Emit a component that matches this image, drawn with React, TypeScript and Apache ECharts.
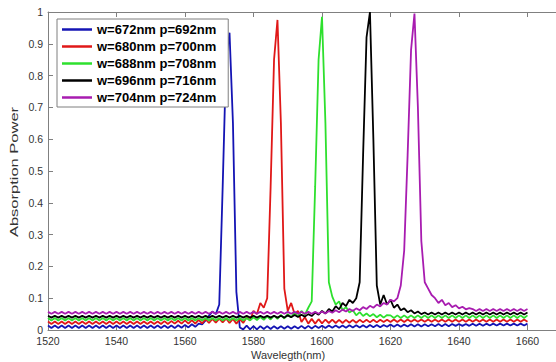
import React, { useEffect, useRef } from "react";
import * as echarts from "echarts";

const FONT = "'Liberation Sans', Arial, sans-serif";

// sampling grid of the spectra (nm)
const WAVELENGTH: number[] = Array.from({ length: 141 }, (_, i) => 1520 + i);

const X_TICKS = { min: 1520, max: 1680, interval: 20 };
const Y_TICKS = { min: 0, max: 1, interval: 0.1 };

const SERIES_NAMES = [
  "w=672nm p=692nm",
  "w=680nm p=700nm",
  "w=688nm p=708nm",
  "w=696nm p=716nm",
  "w=704nm p=724nm",
];
const SERIES_COLORS = ["#1414b4", "#e01818", "#2ee02e", "#000000", "#a81cb0"];

const BLUE = [
  0.014, 0.006, 0.014, 0.006, 0.014, 0.006, 0.014, 0.006, 0.014, 0.006,
  0.014, 0.006, 0.014, 0.006, 0.014, 0.006, 0.014, 0.006, 0.014, 0.006,
  0.014, 0.006, 0.014, 0.006, 0.014, 0.006, 0.014, 0.006, 0.014, 0.006,
  0.014, 0.006, 0.014, 0.006, 0.014, 0.006, 0.014, 0.006, 0.015, 0.007,
  0.016, 0.008, 0.018, 0.010, 0.020, 0.018, 0.030, 0.045, 0.058, 0.050,
  0.080, 0.450, 0.850, 0.935, 0.650, 0.120, 0.008, 0.002, 0.014, 0.002,
  0.012, 0.002, 0.012, 0.003, 0.012, 0.003, 0.012, 0.004, 0.012, 0.004,
  0.012, 0.004, 0.012, 0.005, 0.013, 0.005, 0.013, 0.005, 0.013, 0.006,
  0.013, 0.006, 0.014, 0.007, 0.014, 0.007, 0.014, 0.007, 0.015, 0.008,
  0.015, 0.008, 0.015, 0.008, 0.016, 0.009, 0.016, 0.009, 0.016, 0.010,
  0.017, 0.010, 0.017, 0.010, 0.017, 0.011, 0.018, 0.011, 0.018, 0.011,
  0.018, 0.012, 0.018, 0.012, 0.019, 0.012, 0.019, 0.012, 0.019, 0.013,
  0.019, 0.013, 0.019, 0.013, 0.020, 0.013, 0.020, 0.013, 0.020, 0.014,
  0.020, 0.014, 0.020, 0.014, 0.020, 0.014, 0.020, 0.014, 0.020, 0.014,
  0.020,
];

const RED = [
  0.027, 0.019, 0.027, 0.019, 0.027, 0.019, 0.027, 0.019, 0.027, 0.019,
  0.027, 0.019, 0.027, 0.019, 0.027, 0.019, 0.027, 0.019, 0.027, 0.019,
  0.027, 0.019, 0.027, 0.019, 0.027, 0.019, 0.027, 0.019, 0.027, 0.019,
  0.027, 0.019, 0.027, 0.019, 0.028, 0.019, 0.028, 0.020, 0.029, 0.020,
  0.030, 0.020, 0.031, 0.020, 0.032, 0.021, 0.034, 0.022, 0.035, 0.023,
  0.036, 0.024, 0.036, 0.022, 0.035, 0.020, 0.034, 0.022, 0.040, 0.030,
  0.060, 0.050, 0.085, 0.070, 0.100, 0.450, 0.850, 0.975, 0.650, 0.130,
  0.060, 0.085, 0.050, 0.060, 0.025, 0.040, 0.020, 0.035, 0.020, 0.034,
  0.021, 0.033, 0.022, 0.033, 0.022, 0.032, 0.022, 0.032, 0.023, 0.032,
  0.023, 0.032, 0.024, 0.032, 0.024, 0.032, 0.024, 0.032, 0.025, 0.032,
  0.025, 0.033, 0.025, 0.033, 0.025, 0.033, 0.026, 0.033, 0.026, 0.033,
  0.026, 0.033, 0.026, 0.033, 0.026, 0.033, 0.026, 0.033, 0.026, 0.033,
  0.026, 0.033, 0.026, 0.033, 0.026, 0.033, 0.026, 0.033, 0.026, 0.033,
  0.026, 0.033, 0.026, 0.033, 0.026, 0.033, 0.026, 0.033, 0.026, 0.033,
  0.026,
];

const GREEN = [
  0.038, 0.030, 0.038, 0.030, 0.038, 0.030, 0.038, 0.030, 0.038, 0.030,
  0.038, 0.030, 0.038, 0.030, 0.038, 0.030, 0.038, 0.030, 0.038, 0.030,
  0.038, 0.030, 0.038, 0.030, 0.038, 0.030, 0.038, 0.030, 0.038, 0.030,
  0.038, 0.030, 0.038, 0.030, 0.038, 0.030, 0.038, 0.030, 0.038, 0.030,
  0.038, 0.030, 0.038, 0.030, 0.038, 0.030, 0.038, 0.030, 0.038, 0.030,
  0.038, 0.030, 0.038, 0.030, 0.038, 0.030, 0.038, 0.030, 0.038, 0.030,
  0.040, 0.031, 0.041, 0.032, 0.043, 0.033, 0.045, 0.035, 0.048, 0.036,
  0.050, 0.040, 0.055, 0.042, 0.060, 0.048, 0.070, 0.090, 0.450, 0.850,
  0.985, 0.650, 0.150, 0.105, 0.080, 0.090, 0.062, 0.072, 0.055, 0.062,
  0.046, 0.056, 0.044, 0.052, 0.043, 0.050, 0.040, 0.048, 0.039, 0.047,
  0.046, 0.038, 0.046, 0.038, 0.046, 0.038, 0.046, 0.038, 0.046, 0.038,
  0.046, 0.038, 0.046, 0.038, 0.046, 0.038, 0.046, 0.038, 0.046, 0.038,
  0.046, 0.038, 0.046, 0.038, 0.046, 0.038, 0.046, 0.038, 0.046, 0.038,
  0.046, 0.038, 0.046, 0.038, 0.046, 0.038, 0.046, 0.038, 0.046, 0.038,
  0.046,
];

const BLACK = [
  0.045, 0.039, 0.045, 0.039, 0.045, 0.039, 0.045, 0.039, 0.045, 0.039,
  0.045, 0.039, 0.045, 0.039, 0.045, 0.039, 0.045, 0.039, 0.045, 0.039,
  0.045, 0.039, 0.045, 0.039, 0.045, 0.039, 0.045, 0.039, 0.045, 0.039,
  0.045, 0.039, 0.045, 0.039, 0.045, 0.039, 0.045, 0.039, 0.045, 0.039,
  0.045, 0.039, 0.045, 0.039, 0.045, 0.039, 0.045, 0.039, 0.045, 0.039,
  0.045, 0.039, 0.045, 0.039, 0.045, 0.039, 0.045, 0.039, 0.045, 0.039,
  0.045, 0.039, 0.045, 0.039, 0.045, 0.039, 0.045, 0.039, 0.045, 0.039,
  0.046, 0.040, 0.047, 0.041, 0.048, 0.042, 0.050, 0.044, 0.055, 0.048,
  0.060, 0.052, 0.066, 0.058, 0.075, 0.065, 0.085, 0.075, 0.095, 0.085,
  0.100, 0.150, 0.550, 0.920, 1.000, 0.600, 0.140, 0.080, 0.110, 0.080,
  0.095, 0.070, 0.080, 0.062, 0.068, 0.056, 0.062, 0.052, 0.058, 0.050,
  0.055, 0.049, 0.055, 0.049, 0.055, 0.049, 0.055, 0.049, 0.055, 0.049,
  0.055, 0.049, 0.055, 0.049, 0.055, 0.049, 0.055, 0.049, 0.055, 0.049,
  0.055, 0.049, 0.055, 0.049, 0.055, 0.049, 0.055, 0.049, 0.055, 0.049,
  0.055,
];

const PURPLE = [
  0.057, 0.051, 0.057, 0.051, 0.057, 0.051, 0.057, 0.051, 0.057, 0.051,
  0.057, 0.051, 0.057, 0.051, 0.057, 0.051, 0.057, 0.051, 0.057, 0.051,
  0.057, 0.051, 0.057, 0.051, 0.057, 0.051, 0.057, 0.051, 0.057, 0.051,
  0.057, 0.051, 0.057, 0.051, 0.057, 0.051, 0.057, 0.051, 0.057, 0.051,
  0.057, 0.051, 0.057, 0.051, 0.057, 0.051, 0.057, 0.051, 0.057, 0.051,
  0.057, 0.051, 0.057, 0.051, 0.057, 0.051, 0.057, 0.051, 0.057, 0.051,
  0.057, 0.051, 0.057, 0.051, 0.057, 0.051, 0.057, 0.051, 0.057, 0.051,
  0.057, 0.051, 0.057, 0.051, 0.057, 0.051, 0.057, 0.051, 0.057, 0.051,
  0.058, 0.052, 0.060, 0.054, 0.062, 0.056, 0.064, 0.058, 0.066, 0.060,
  0.068, 0.062, 0.072, 0.066, 0.076, 0.070, 0.080, 0.074, 0.085, 0.080,
  0.095, 0.090, 0.100, 0.140, 0.250, 0.550, 0.880, 0.995, 0.700, 0.280,
  0.150, 0.130, 0.110, 0.100, 0.085, 0.095, 0.078, 0.085, 0.072, 0.078,
  0.068, 0.073, 0.065, 0.069, 0.066, 0.060, 0.066, 0.060, 0.066, 0.060,
  0.066, 0.060, 0.066, 0.060, 0.066, 0.060, 0.066, 0.060, 0.066, 0.060,
  0.066,
];

const SERIES_VALUES = [BLUE, RED, GREEN, BLACK, PURPLE];

export default function App() {
  const ref = useRef<HTMLDivElement>(null);

  useEffect(() => {
    if (!ref.current) return;
    const chart = echarts.init(ref.current, undefined, { renderer: "svg" });
    const axisColor = "#808080";
    const labelColor = "#333333";

    chart.setOption({
      animation: false,
      backgroundColor: "#ffffff",
      grid: {
        left: 48,
        top: 12,
        width: 548,
        height: 318,
        containLabel: false,
        outerBoundsMode: "none",
      },
      xAxis: [
        {
          type: "value",
          ...X_TICKS,
          position: "bottom",
          axisLine: { show: true, lineStyle: { color: axisColor, width: 1 } },
          axisTick: { show: true, inside: true, length: 5, lineStyle: { color: axisColor } },
          axisLabel: {
            color: labelColor,
            fontSize: 10.5,
            fontFamily: FONT,
            margin: 5,
            formatter: (v: number) => (v > 1660 ? "" : String(v)),
          },
          splitLine: { show: false },
        },
        {
          type: "value",
          ...X_TICKS,
          position: "top",
          axisLine: { show: true, lineStyle: { color: axisColor, width: 1 } },
          axisTick: { show: true, inside: true, length: 5, lineStyle: { color: axisColor } },
          axisLabel: { show: false },
          splitLine: { show: false },
        },
      ],
      yAxis: {
        type: "value",
        ...Y_TICKS,
        axisLine: { show: true, lineStyle: { color: axisColor, width: 1 } },
        axisTick: { show: true, inside: true, length: 5, lineStyle: { color: axisColor } },
        axisLabel: { color: labelColor, fontSize: 10.5, fontFamily: FONT, margin: 5 },
        splitLine: { show: false },
      },
      legend: {
        orient: "vertical",
        left: 57,
        top: 19,
        backgroundColor: "#ffffff",
        borderColor: "#7f7f7f",
        borderWidth: 1,
        padding: [3, 12, 2, 5],
        itemGap: 2,
        itemWidth: 30,
        itemHeight: 2.5,
        icon: "rect",
        textStyle: { fontSize: 13, fontWeight: "bold", color: "#000", lineHeight: 15, fontFamily: FONT },
        data: SERIES_NAMES,
      },
      graphic: [
        {
          type: "text",
          x: 288,
          y: 355,
          style: {
            text: "Wavelegth(nm)",
            fontSize: 11,
            fontFamily: FONT,
            fill: labelColor,
            align: "center",
            verticalAlign: "middle",
          },
        },
        {
          type: "text",
          x: 14,
          y: 172,
          rotation: Math.PI / 2,
          scaleX: 1.5,
          style: {
            text: "Absorption Power",
            fontSize: 11,
            fontFamily: FONT,
            fill: labelColor,
            align: "center",
            verticalAlign: "middle",
          },
        },
      ],
      series: SERIES_NAMES.map((name, k) => ({
        name,
        type: "line",
        xAxisIndex: 0,
        showSymbol: false,
        symbol: "none",
        clip: true,
        color: SERIES_COLORS[k],
        lineStyle: { width: 1.8, color: SERIES_COLORS[k] },
        data: WAVELENGTH.map((w, i) => [w, SERIES_VALUES[k][i]]),
      })),
    });

    return () => chart.dispose();
  }, []);

  return (
    <div
      ref={ref}
      style={{ position: "fixed", left: 0, top: 0, width: 556, height: 362 }}
    />
  );
}
